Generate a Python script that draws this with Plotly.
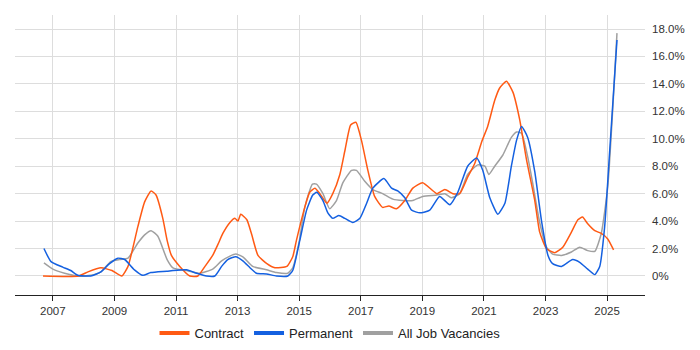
import plotly.graph_objects as go

# ---- data (decimal year, percent) ----
contract_x = [2006.68, 2007.84, 2008.14, 2008.56, 2008.92, 2009.24, 2009.44, 2009.76, 2009.98, 2010.19,
              2010.35, 2010.57, 2010.71, 2010.85, 2011.12, 2011.45, 2011.71, 2011.94, 2012.19, 2012.36,
              2012.52, 2012.75, 2012.91, 2013.01, 2013.10, 2013.30, 2013.46, 2013.66, 2013.95, 2014.21,
              2014.60, 2014.79, 2014.91, 2015.18, 2015.34, 2015.51, 2015.67, 2015.90, 2016.09, 2016.32,
              2016.49, 2016.67, 2016.84, 2017.02, 2017.23, 2017.45, 2017.71, 2017.91, 2018.16, 2018.43,
              2018.69, 2019.01, 2019.47, 2019.73, 2019.99, 2020.21, 2020.47, 2020.70, 2020.93, 2021.12,
              2021.35, 2021.51, 2021.73, 2021.94, 2022.16, 2022.38, 2022.65, 2022.81, 2023.03, 2023.30,
              2023.56, 2023.84, 2024.05, 2024.20, 2024.37, 2024.60, 2024.81, 2025.02, 2025.21]
contract_y = [0, 0, 0.3, 0.6, 0.4, 0, 0.7, 3.6, 5.4, 6.2,
              5.9, 4.2, 2.6, 1.5, 0.7, 0, 0, 0.7, 1.5, 2.3,
              3.1, 3.9, 4.2, 4.0, 4.5, 4.1, 3.0, 1.5, 0.9, 0.6,
              0.7, 1.4, 2.6, 5.0, 6.1, 6.4, 6.0, 5.3, 6.0, 7.4,
              9.2, 11.0, 11.2, 9.9, 7.7, 5.8, 5.0, 5.1, 4.9, 5.5,
              6.4, 6.8, 6.0, 6.3, 6.0, 6.0, 7.2, 8.2, 9.8, 10.9,
              12.8, 13.7, 14.2, 13.4, 11.4, 8.5, 5.5, 3.2, 2.0, 1.7,
              2.1, 3.2, 4.1, 4.3, 3.8, 3.3, 3.1, 2.7, 1.9]

permanent_x = [2006.71, 2006.94, 2007.32, 2007.58, 2007.81, 2008.23, 2008.56, 2008.84, 2009.11, 2009.33,
               2009.65, 2009.92, 2010.18, 2010.70, 2010.90, 2011.34, 2011.67, 2011.99, 2012.26, 2012.48,
               2012.68, 2012.94, 2013.17, 2013.40, 2013.61, 2013.94, 2014.26, 2014.63, 2014.79, 2015.02,
               2015.24, 2015.44, 2015.57, 2015.77, 2015.93, 2016.09, 2016.29, 2016.48, 2016.74, 2016.97,
               2017.19, 2017.39, 2017.75, 2018.00, 2018.20, 2018.43, 2018.65, 2018.92, 2019.24, 2019.56,
               2019.89, 2020.15, 2020.47, 2020.76, 2020.96, 2021.19, 2021.45, 2021.68, 2021.89, 2022.06,
               2022.22, 2022.42, 2022.65, 2022.87, 2023.08, 2023.23, 2023.52, 2023.88, 2024.11, 2024.37,
               2024.60, 2024.76, 2024.92, 2025.08, 2025.32]
permanent_y = [2.0, 1.05, 0.65, 0.4, 0.05, 0, 0.3, 0.9, 1.3, 1.2,
               0.45, 0.05, 0.25, 0.35, 0.4, 0.45, 0.2, 0, 0, 0.7,
               1.2, 1.4, 1.1, 0.6, 0.2, 0.15, 0, 0, 0.4, 2.6,
               4.8, 5.9, 6.1, 5.5, 4.6, 4.2, 4.4, 4.2, 3.9, 4.2,
               5.3, 6.4, 7.1, 6.4, 6.2, 5.7, 4.8, 4.6, 4.8, 5.8,
               5.2, 6.1, 8.0, 8.6, 7.7, 5.7, 4.5, 5.3, 8.0, 9.9,
               10.9, 10.1, 7.6, 4.0, 1.5, 0.9, 0.7, 1.2, 1.0, 0.5,
               0.1, 0.7, 3.6, 9.0, 17.2]

all_x = [2006.71, 2007.00, 2007.38, 2007.81, 2008.23, 2008.56, 2008.88, 2009.17, 2009.44, 2009.76,
         2009.98, 2010.19, 2010.41, 2010.71, 2010.90, 2011.34, 2011.77, 2012.19, 2012.48, 2012.75,
         2012.94, 2013.17, 2013.49, 2013.94, 2014.26, 2014.63, 2014.79, 2015.00, 2015.18, 2015.43,
         2015.56, 2015.77, 2015.99, 2016.21, 2016.42, 2016.70, 2016.86, 2017.13, 2017.39, 2017.71,
         2018.04, 2018.36, 2018.69, 2019.01, 2019.47, 2019.73, 2019.94, 2020.21, 2020.47, 2020.80,
         2021.03, 2021.16, 2021.35, 2021.61, 2021.89, 2022.06, 2022.22, 2022.42, 2022.58, 2022.81,
         2023.03, 2023.23, 2023.52, 2023.84, 2024.11, 2024.37, 2024.60, 2024.81, 2025.02, 2025.32]
all_y = [0.95, 0.5, 0.2, 0, 0.05, 0.3, 1.05, 1.2, 1.3, 2.4,
         3.0, 3.3, 2.9, 1.2, 0.6, 0.4, 0.2, 0.5, 1.1, 1.45,
         1.6, 1.4, 0.7, 0.45, 0.25, 0.2, 0.6, 2.5, 5.0, 6.7,
         6.7, 6.0, 4.9, 5.5, 6.8, 7.7, 7.7, 6.9, 6.3, 6.0,
         5.6, 5.5, 5.5, 5.8, 5.9, 6.0, 5.7, 6.0, 7.4, 8.1,
         8.0, 7.4, 8.0, 8.8, 10.1, 10.5, 10.4, 8.7, 6.8, 3.9,
         2.1, 1.6, 1.5, 1.75, 2.1, 1.85, 1.8, 3.1, 6.5, 17.7]

x_ticks = [2007, 2009, 2011, 2013, 2015, 2017, 2019, 2021, 2023, 2025]
y_ticks = [0, 2, 4, 6, 8, 10, 12, 14, 16, 18]
y_labels = ["0%", "2.0%", "4.0%", "6.0%", "8.0%", "10.0%", "12.0%", "14.0%", "16.0%", "18.0%"]

series_names = ["Contract", "Permanent", "All Job Vacancies"]
series_colors = ["#ff5a14", "#1460e0", "#a0a0a0"]

FONT = "Liberation Sans, Arial, sans-serif"
LINE = dict(width=1.5, shape="spline", smoothing=0.5)

fig = go.Figure()
# drawing order: grey at back, then contract, then permanent
for xs, ys, idx in [(all_x, all_y, 2), (contract_x, contract_y, 0), (permanent_x, permanent_y, 1)]:
    fig.add_trace(go.Scatter(x=xs, y=ys, mode="lines", name=series_names[idx],
                             line=dict(color=series_colors[idx], **LINE), showlegend=False))
# legend entries with thicker swatches (no data points)
for idx, nm in enumerate(series_names):
    fig.add_trace(go.Scatter(x=[None], y=[None], mode="lines", name=nm,
                             line=dict(color=series_colors[idx], width=4), showlegend=True))

# The page body has an 8px default margin, so the figure is 692x342 inside 700x350.
# Zero left/top margins (offset via axis domains) keep the legend auto-margin padding at 0.
W, H = 692, 342
ML, MR, MT, MB = 0, 55, 0, 55
PW, PH = W - ML - MR, H - MT - MB
fig.update_layout(
    width=W, height=H,
    margin=dict(l=ML, r=MR, t=MT, b=MB),
    paper_bgcolor="white", plot_bgcolor="white",
    font=dict(family=FONT, size=12, color="#333333"),
    showlegend=True,
    legend=dict(orientation="h", x=322 / PW, xanchor="center", xref="paper",
                y=17 / H, yanchor="middle", yref="container",
                font=dict(size=13, color="#222222"), itemwidth=30, traceorder="normal"),
    hovermode=False,
)
fig.update_xaxes(domain=[7 / PW, 1], range=[2005.77, 2026.23], tickvals=x_ticks,
                 ticktext=[str(v) for v in x_ticks],
                 showgrid=True, gridcolor="#dddddd", gridwidth=1,
                 showline=True, linecolor="#222222", linewidth=1,
                 ticks="outside", ticklen=5, tickcolor="#222222", automargin=False,
                 tickfont=dict(size=11.5, color="#333333"), zeroline=False)
fig.update_yaxes(domain=[0, 1 - 7 / PH], range=[-1.385, 19.02], side="right",
                 tickvals=y_ticks, ticktext=y_labels,
                 showgrid=True, gridcolor="#dddddd", gridwidth=1, automargin=False,
                 showline=False, ticks="", zeroline=False, ticklabelstandoff=6,
                 tickfont=dict(size=11.5, color="#333333"))

fig.write_html("out.html")
